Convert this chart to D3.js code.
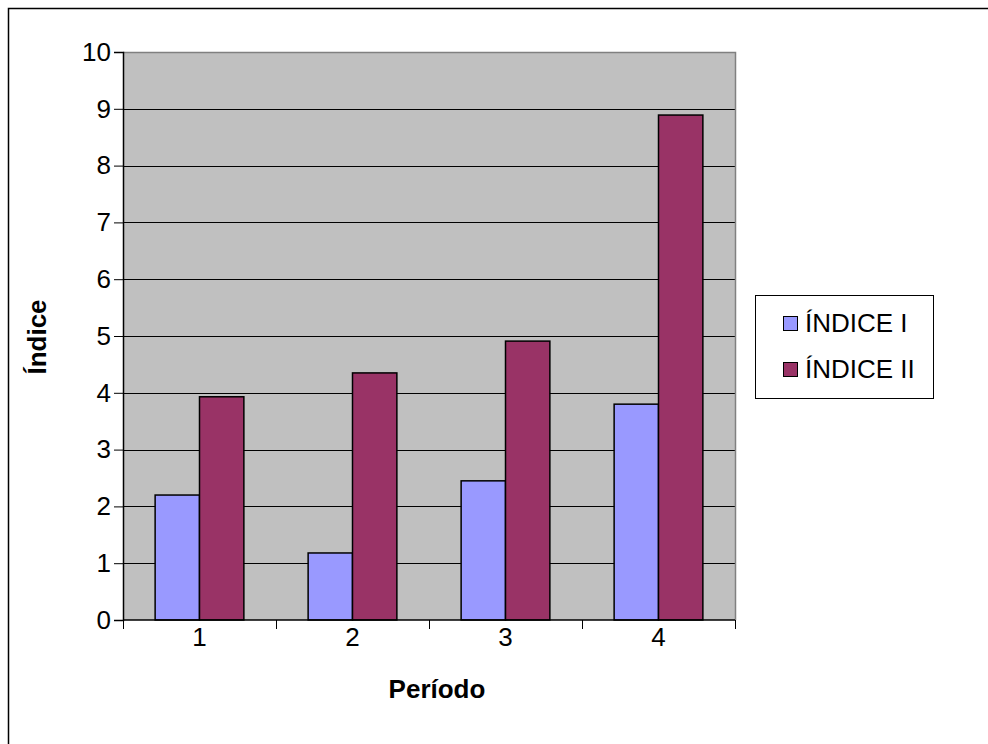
<!DOCTYPE html>
<html>
<head>
<meta charset="utf-8">
<script src="https://cdn.jsdelivr.net/npm/d3@7"></script>
<style>
  body { margin: 0; background: #fff; }
  text { font-family: "Liberation Sans", Arial, sans-serif; }
</style>
</head>
<body>
<div id="chart"></div>
<script>
const periods = ["1", "2", "3", "4"];
const seriesNames = ["ÍNDICE I", "ÍNDICE II"];
const indice1 = [2.2, 1.18, 2.45, 3.8];
const indice2 = [3.93, 4.35, 4.91, 8.89];
const yTicks = [0, 1, 2, 3, 4, 5, 6, 7, 8, 9, 10];
const colors = ["#9999ff", "#993366"];

const width = 988, height = 744;
const plot = {left: 123, top: 52, right: 735, bottom: 620};
const fontSize = "26px";

const svg = d3.select("#chart")
  .append("svg")
  .attr("width", width)
  .attr("height", height);

// outer chart border
svg.append("rect")
  .attr("x", 8.5).attr("y", 8.5)
  .attr("width", 990).attr("height", 750)
  .attr("fill", "#fff")
  .attr("stroke", "#000")
  .attr("stroke-width", 1.5);

const x = d3.scaleBand()
  .domain(periods)
  .range([plot.left, plot.right]);

const xInner = d3.scaleBand()
  .domain(seriesNames)
  .range([x.bandwidth() * 0.21, x.bandwidth() * 0.79]);

const y = d3.scaleLinear()
  .domain([0, 10])
  .range([plot.bottom, plot.top]);

// plot background
svg.append("rect")
  .attr("x", plot.left).attr("y", plot.top)
  .attr("width", plot.right - plot.left)
  .attr("height", plot.bottom - plot.top)
  .attr("fill", "#c0c0c0");

// gridlines
svg.append("g")
  .selectAll("line")
  .data(yTicks.slice(1, -1))
  .join("line")
  .attr("x1", plot.left).attr("x2", plot.right)
  .attr("y1", d => Math.round(y(d)) + 0.5)
  .attr("y2", d => Math.round(y(d)) + 0.5)
  .attr("stroke", "#000");

// plot frame top / right in grey
svg.append("path")
  .attr("d", `M${plot.left},${plot.top + 0.5}H${plot.right + 0.5}V${plot.bottom}`)
  .attr("fill", "none")
  .attr("stroke", "#808080")
  .attr("stroke-width", 1.5);

// bars
const rows = periods.map((p, i) => ({period: p, values: [indice1[i], indice2[i]]}));

const groups = svg.append("g")
  .selectAll("g")
  .data(rows)
  .join("g")
  .attr("transform", d => `translate(${x(d.period)},0)`);

groups.selectAll("rect")
  .data(d => d.values.map((v, k) => ({name: seriesNames[k], value: v, k: k})))
  .join("rect")
  .attr("x", d => xInner(d.name))
  .attr("y", d => y(d.value))
  .attr("width", xInner.bandwidth())
  .attr("height", d => y(0) - y(d.value))
  .attr("fill", d => colors[d.k])
  .attr("stroke", "#000")
  .attr("stroke-width", 1.5);

// y axis
const yAxis = d3.axisLeft(y)
  .tickValues(yTicks)
  .tickSize(9)
  .tickPadding(3);

const gy = svg.append("g")
  .attr("transform", `translate(${plot.left},0)`)
  .call(yAxis);
gy.select(".domain").attr("stroke", "#000").attr("stroke-width", 1.5);
gy.selectAll(".tick line").attr("stroke", "#000");
gy.selectAll(".tick text")
  .attr("fill", "#000")
  .style("font-family", "'Liberation Sans', Arial, sans-serif")
  .style("font-size", fontSize);

// x axis: ticks at category boundaries
const gx = svg.append("g")
  .attr("transform", `translate(0,${plot.bottom})`);
gx.append("line")
  .attr("x1", plot.left).attr("x2", plot.right)
  .attr("stroke", "#000").attr("stroke-width", 1.5);
gx.selectAll(".sep")
  .data(periods.concat(["end"]))
  .join("line")
  .attr("class", "sep")
  .attr("x1", (d, i) => Math.round(plot.left + i * x.step()) + 0.5)
  .attr("x2", (d, i) => Math.round(plot.left + i * x.step()) + 0.5)
  .attr("y1", 0).attr("y2", 9)
  .attr("stroke", "#000");
gx.selectAll(".lbl")
  .data(periods)
  .join("text")
  .attr("class", "lbl")
  .attr("x", d => x(d) + x.bandwidth() / 2)
  .attr("y", 26)
  .attr("text-anchor", "middle")
  .style("font-size", fontSize)
  .text(d => d);

// axis titles
svg.append("text")
  .attr("x", 437).attr("y", 698)
  .attr("text-anchor", "middle")
  .style("font-size", fontSize)
  .style("font-weight", "bold")
  .text("Período");

svg.append("text")
  .attr("transform", "translate(46,337) rotate(-90)")
  .attr("text-anchor", "middle")
  .style("font-size", fontSize)
  .style("font-weight", "bold")
  .text("Índice");

// legend
const legend = svg.append("g");
legend.append("rect")
  .attr("x", 755.5).attr("y", 295.5)
  .attr("width", 178).attr("height", 103)
  .attr("fill", "#fff")
  .attr("stroke", "#000");

const items = legend.selectAll(".item")
  .data(seriesNames)
  .join("g")
  .attr("class", "item")
  .attr("transform", (d, i) => `translate(783,${323 + i * 46})`);
items.append("rect")
  .attr("x", 0.5).attr("y", -6.5)
  .attr("width", 14).attr("height", 14)
  .attr("fill", (d, i) => colors[i])
  .attr("stroke", "#000");
items.append("text")
  .attr("x", 22)
  .attr("y", 9)
  .style("font-size", fontSize)
  .text(d => d);
</script>
</body>
</html>
